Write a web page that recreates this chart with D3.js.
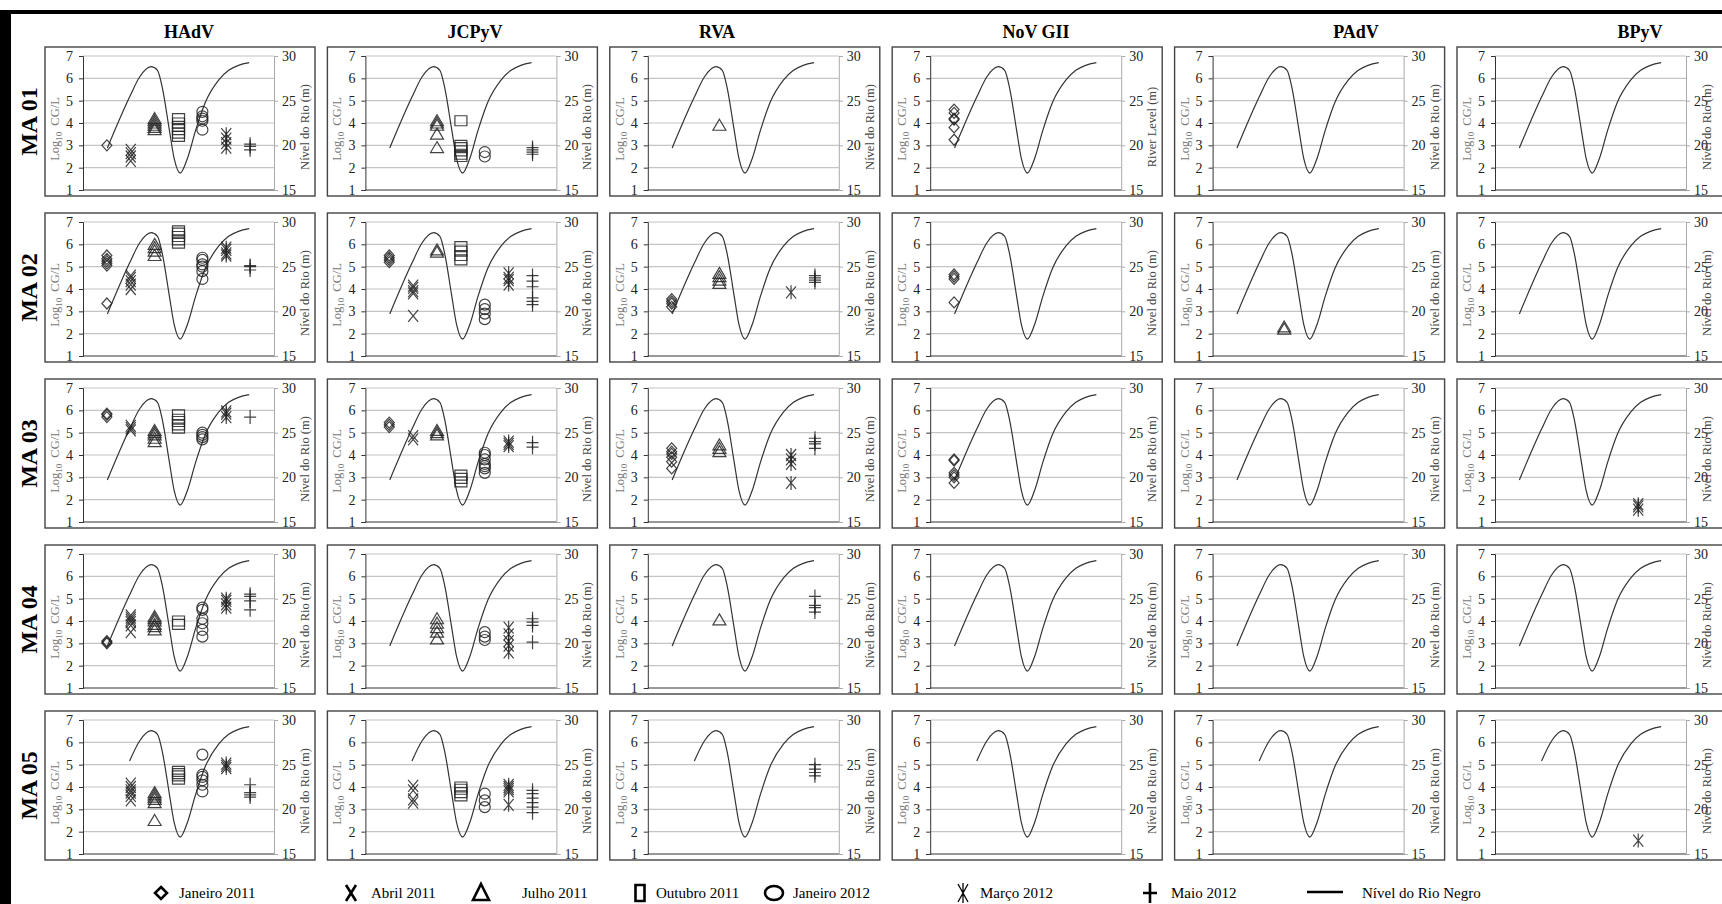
<!DOCTYPE html>
<html>
<head>
<meta charset="utf-8">
<script src="https://cdn.jsdelivr.net/npm/d3@7"></script>
<style>
  body { margin: 0; background: #fff; }
  svg { display: block; }
</style>
</head>
<body>
<div id="chart-area"></div>
<script>
// Columns (virus) and rows (sampling site)
const viruses = ["HAdV", "JCPyV", "RVA", "NoV GII", "PAdV", "BPyV"];
const sites = ["MA 01", "MA 02", "MA 03", "MA 04", "MA 05"];
const campaigns = ["Janeiro 2011", "Abril 2011", "Julho 2011", "Outubro 2011", "Janeiro 2012", "Março 2012", "Maio 2012"];

// tick labels
const logTicks = [1, 2, 3, 4, 5, 6, 7];
const levelTicks = [15, 20, 25, 30];

// Rio Negro level (m), x in campaign units (1 = Janeiro 2011 ... 7 = Maio 2012)
const riverX = [1.02, 1.95, 2.37, 2.85, 3.12, 3.33, 3.61, 3.82, 4.07, 4.37, 4.72, 5.13, 5.68, 6.10, 6.51, 6.96];
const riverLevel = [19.7, 25.4, 27.65, 28.8, 28.4, 26.35, 21.85, 18.5, 16.9, 18.5, 21.7, 24.85, 27.3, 28.4, 28.95, 29.25];

// log10 CG/L per site: [virus, campaign index, replicate values]
const ma01 = [
	["HAdV", 0, [3.0]],
	["HAdV", 1, [2.3, 2.5, 2.65, 2.8]],
	["HAdV", 2, [3.7, 3.8, 3.9, 4.0, 4.1, 4.2]],
	["HAdV", 3, [3.4, 3.55, 3.7, 3.85, 4.0, 4.2]],
	["HAdV", 4, [3.7, 4.1, 4.2, 4.3, 4.5]],
	["HAdV", 5, [2.9, 3.1, 3.3, 3.5]],
	["HAdV", 6, [2.8, 2.95, 3.05]],
	["JCPyV", 2, [2.9, 3.5, 3.9, 4.0, 4.1]],
	["JCPyV", 3, [2.5, 2.6, 2.75, 2.9, 3.0, 4.1]],
	["JCPyV", 4, [2.5, 2.7]],
	["JCPyV", 6, [2.6, 2.7, 2.8, 2.9]],
	["RVA", 2, [3.9]],
	["NoV GII", 0, [3.25, 3.8, 4.15, 4.2, 4.45, 4.6]]
];
const ma02 = [
	["HAdV", 0, [3.35, 5.05, 5.15, 5.25, 5.35, 5.5]],
	["HAdV", 1, [4.0, 4.2, 4.35, 4.5, 4.6]],
	["HAdV", 2, [5.5, 5.7, 5.85, 6.0]],
	["HAdV", 3, [6.05, 6.2, 6.35, 6.5, 6.6]],
	["HAdV", 4, [4.45, 4.8, 5.0, 5.1, 5.3, 5.4]],
	["HAdV", 5, [5.5, 5.6, 5.75, 5.85]],
	["HAdV", 6, [4.85, 5.0, 5.05]],
	["JCPyV", 0, [5.2, 5.3, 5.4, 5.5]],
	["JCPyV", 1, [2.8, 3.8, 3.9, 4.05, 4.15]],
	["JCPyV", 2, [5.65, 5.75]],
	["JCPyV", 3, [5.3, 5.5, 5.7, 5.9]],
	["JCPyV", 4, [2.65, 2.9, 3.1, 3.3]],
	["JCPyV", 5, [4.2, 4.4, 4.5, 4.7]],
	["JCPyV", 6, [3.3, 3.45, 3.6, 4.1, 4.35, 4.6]],
	["RVA", 0, [3.2, 3.35, 3.45, 3.55]],
	["RVA", 2, [4.25, 4.4, 4.55, 4.7]],
	["RVA", 5, [3.85]],
	["RVA", 6, [4.3, 4.4, 4.5, 4.6]],
	["NoV GII", 0, [3.4, 4.45, 4.55, 4.65]],
	["PAdV", 2, [2.2, 2.3]]
];
const ma03 = [
	["HAdV", 0, [5.7, 5.8, 5.85]],
	["HAdV", 1, [5.1, 5.2, 5.3]],
	["HAdV", 2, [4.6, 4.75, 4.9, 5.0, 5.1]],
	["HAdV", 3, [5.2, 5.35, 5.5, 5.6, 5.8]],
	["HAdV", 4, [4.7, 4.8, 4.9, 5.0]],
	["HAdV", 5, [5.7, 5.85, 5.95]],
	["HAdV", 6, [5.7]],
	["JCPyV", 0, [5.25, 5.35, 5.45]],
	["JCPyV", 1, [4.7, 4.85]],
	["JCPyV", 2, [4.9, 5.0, 5.1]],
	["JCPyV", 3, [2.8, 2.95, 3.1]],
	["JCPyV", 4, [3.2, 3.4, 3.5, 3.6, 3.8, 4.0, 4.1]],
	["JCPyV", 5, [4.4, 4.5, 4.6]],
	["JCPyV", 6, [4.35, 4.55]],
	["RVA", 0, [3.4, 3.7, 3.9, 4.05, 4.15, 4.3]],
	["RVA", 2, [4.15, 4.3, 4.45]],
	["RVA", 5, [2.75, 3.6, 3.8, 4.0]],
	["RVA", 6, [4.3, 4.5, 4.6, 4.75]],
	["NoV GII", 0, [2.75, 3.0, 3.1, 3.2, 3.75, 3.8]],
	["BPyV", 5, [1.55, 1.7, 1.8]]
];
const ma04 = [
	["HAdV", 0, [3.0, 3.05, 3.1]],
	["HAdV", 1, [3.5, 3.8, 3.95, 4.05, 4.15, 4.25]],
	["HAdV", 2, [3.6, 3.75, 3.85, 4.0, 4.1, 4.2]],
	["HAdV", 3, [3.85, 4.0]],
	["HAdV", 4, [3.3, 3.6, 3.9, 4.1, 4.5, 4.6]],
	["HAdV", 5, [4.6, 4.75, 4.9, 5.0]],
	["HAdV", 6, [4.5, 4.9, 5.1, 5.2]],
	["JCPyV", 2, [3.2, 3.5, 3.7, 3.9, 4.1]],
	["JCPyV", 4, [3.15, 3.3, 3.5]],
	["JCPyV", 5, [2.6, 2.9, 3.1, 3.4, 3.7]],
	["JCPyV", 6, [3.05, 3.8, 3.95, 4.1]],
	["RVA", 2, [4.05]],
	["RVA", 6, [4.4, 4.6, 4.7, 5.1]]
];
const ma05 = [
	["HAdV", 1, [3.4, 3.6, 3.75, 3.85, 4.0, 4.15]],
	["HAdV", 2, [2.5, 3.3, 3.45, 3.55, 3.65, 3.75]],
	["HAdV", 3, [4.35, 4.5, 4.6, 4.7]],
	["HAdV", 4, [3.8, 4.1, 4.3, 4.45, 4.55, 5.45]],
	["HAdV", 5, [4.85, 4.95, 5.05]],
	["HAdV", 6, [3.55, 3.65, 3.75, 4.1]],
	["JCPyV", 1, [3.3, 3.45, 3.85, 4.05]],
	["JCPyV", 3, [3.6, 3.75, 3.9, 4.0]],
	["JCPyV", 4, [3.1, 3.4, 3.7]],
	["JCPyV", 5, [3.2, 3.8, 3.9, 4.0, 4.1]],
	["JCPyV", 6, [2.85, 3.1, 3.3, 3.5, 3.7, 3.85]],
	["RVA", 6, [4.5, 4.65, 4.8, 5.0]],
	["BPyV", 5, [1.6]]
];
const siteData = [ma01, ma02, ma03, ma04, ma05];

// SVG size
let width = 1722,
	height = 904;
const serif = "'Liberation Serif', 'Times New Roman', serif";

// panel layout
const boxW = 270, boxH = 149;
const colX = i => 45 + i * 282.4;
const rowY = j => 47 + j * 166;
const headerX = [189, 475, 717, 1036, 1356, 1640];

// marker shapes, one per campaign
const markerPath = [
	"M0,-5.5L5,0L0,5.5L-5,0Z",                       // diamond
	"M-5,-6L5,6M-5,6L5,-6",                         // X
	"M0,-6L6.5,5L-6.5,5Z",                          // triangle
	"M-6,-5H6V5H-6Z",                               // square
	"M5.5,0A5.5,5.5 0 1,1 -5.5,0A5.5,5.5 0 1,1 5.5,0Z", // circle
	"M-5,-6L5,6M-5,6L5,-6M0,-7V7",                  // asterisk
	"M-6,0H6M0,-7V7"                                // plus
];

let svg = d3.select("#chart-area")
	.append("svg")
	.attr("width", width)
	.attr("height", height);

// black frame on top and left
svg.append("rect").attr("x", 0).attr("y", 10).attr("width", width).attr("height", 4).attr("fill", "#000");
svg.append("rect").attr("x", 0).attr("y", 10).attr("width", 11).attr("height", height - 10).attr("fill", "#000");

// column headers
svg.selectAll(".col-title")
	.data(viruses)
	.enter()
	.append("text")
	.attr("class", "col-title")
	.attr("x", (d, i) => headerX[i])
	.attr("y", 38)
	.attr("text-anchor", "middle")
	.attr("font-family", serif)
	.attr("font-weight", "bold")
	.attr("font-size", 18)
	.text(d => d);

// row labels
svg.selectAll(".row-title")
	.data(sites)
	.enter()
	.append("text")
	.attr("class", "row-title")
	.attr("transform", (d, j) => "translate(37," + (rowY(j) + boxH / 2) + ") rotate(-90)")
	.attr("text-anchor", "middle")
	.attr("font-family", serif)
	.attr("font-weight", "bold")
	.attr("font-size", 24)
	.text(d => d);

sites.forEach((site, j) => {
	viruses.forEach((virus, i) => {
		drawPanel(colX(i), rowY(j), virus, j, i);
	});
});

function drawPanel(x0, y0, virus, j, i) {
	const g = svg.append("g").attr("transform", "translate(" + x0 + "," + y0 + ")");

	g.append("rect")
		.attr("width", boxW)
		.attr("height", boxH)
		.attr("fill", "#fff")
		.attr("stroke", "#444")
		.attr("stroke-width", 1.4);

	const x = d3.scaleLinear().domain([0, 8]).range([38, 229]);
	const y = d3.scaleLinear().domain([1, 7]).range([143, 9]);
	const yLevel = d3.scaleLinear().domain([15, 30]).range([143, 9]);

	// gridlines
	g.selectAll(".grid")
		.data(logTicks.slice(1))
		.enter()
		.append("line")
		.attr("x1", x(0))
		.attr("x2", x(8))
		.attr("y1", d => y(d))
		.attr("y2", d => y(d))
		.attr("stroke", "#c4c4c4")
		.attr("stroke-width", 1.2);

	// left axis
	const yAxis = d3.axisLeft(y).tickValues(logTicks).tickFormat(d3.format("d")).tickSize(4).tickPadding(6);
	const ly = g.append("g")
		.attr("transform", "translate(" + x(0) + ",0)")
		.call(yAxis);
	ly.attr("font-family", serif).attr("font-size", 14);
	ly.select(".domain").attr("stroke", "#333");
	ly.selectAll(".tick line").attr("stroke", "#333");
	ly.selectAll(".tick text").attr("fill", "#222");

	// right axis
	const yAxisR = d3.axisRight(yLevel).tickValues(levelTicks).tickFormat(d3.format("d")).tickSize(4).tickPadding(4);
	const ry = g.append("g")
		.attr("transform", "translate(" + x(8) + ",0)")
		.call(yAxisR);
	ry.attr("font-family", serif).attr("font-size", 14);
	ry.select(".domain").attr("stroke", "#aaa");
	ry.selectAll(".tick line").attr("stroke", "#aaa");
	ry.selectAll(".tick text").attr("fill", "#222");

	// bottom axis line
	g.append("line")
		.attr("x1", x(0)).attr("x2", x(8))
		.attr("y1", y(1)).attr("y2", y(1))
		.attr("stroke", "#333");

	// axis titles
	const ll = g.append("text")
		.attr("transform", "translate(14," + 82 + ") rotate(-90)")
		.attr("text-anchor", "middle")
		.attr("font-family", serif)
		.attr("font-size", 12.5)
		.attr("fill", "#777");
	ll.append("tspan").text("Log");
	ll.append("tspan").attr("font-size", 9).attr("dy", 3).text("10");
	ll.append("tspan").attr("dy", -3).attr("dx", 6).text("CG/L");

	// the last column is cut by the page edge, so its title sits a bit further in
	g.append("text")
		.attr("transform", "translate(" + (i === 5 ? 254 : 264) + "," + 80 + ") rotate(-90)")
		.attr("text-anchor", "middle")
		.attr("font-family", serif)
		.attr("font-size", 12.5)
		.attr("fill", "#444")
		.text(j === 0 && i === 3 ? "River Level (m)" : "Nível do Rio (m)");

	// river level line
	let river = riverX.map((v, k) => ({ x: v, level: riverLevel[k] }));
	if (j === 4) river = river.filter(d => d.x >= 1.95);
	const line = d3.line()
		.x(d => x(d.x))
		.y(d => yLevel(d.level))
		.curve(d3.curveMonotoneX);
	g.append("path")
		.datum(river)
		.attr("d", line)
		.attr("fill", "none")
		.attr("stroke", "#333")
		.attr("stroke-width", 1.2);

	// sample markers
	const pts = [];
	siteData[j].filter(r => r[0] === virus).forEach(r => {
		r[2].forEach(v => pts.push({ c: r[1], v: v }));
	});
	g.selectAll(".marker")
		.data(pts)
		.enter()
		.append("path")
		.attr("class", "marker")
		.attr("transform", d => "translate(" + x(d.c + 1) + "," + y(d.v) + ")")
		.attr("d", d => markerPath[d.c])
		.attr("fill", "none")
		.attr("stroke", "#222")
		.attr("stroke-opacity", 0.85)
		.attr("stroke-width", 1.2);
}

// legend
const legendSym = [161, 351, 481, 640, 774, 963, 1150];
const legendText = [179, 371, 522, 656, 793, 980, 1171];
const legendPaths = [
	"M0,-6L6,0L0,6L-6,0Z",
	"M-5,-8L5,8M-5,8L5,-8",
	"M0,-9L8,7L-8,7Z",
	"M-4.5,-8H4.5V8H-4.5Z",
	"M9,0A9,7 0 1,1 -9,0A9,7 0 1,1 9,0Z",
	"M-5,-9L5,9M-5,9L5,-9M0,-10V10",
	"M-7,0H7M0,-10V10"
];
const lg = svg.append("g").attr("class", "legend");
campaigns.forEach((c, k) => {
	lg.append("path")
		.attr("transform", "translate(" + legendSym[k] + ",893)")
		.attr("d", legendPaths[k])
		.attr("fill", "none")
		.attr("stroke", "#000")
		.attr("stroke-width", k === 5 ? 1.3 : 2.6);
	lg.append("text")
		.attr("x", legendText[k])
		.attr("y", 898)
		.attr("font-family", serif)
		.attr("font-size", 15)
		.text(c);
});
lg.append("line")
	.attr("x1", 1307).attr("x2", 1343)
	.attr("y1", 892).attr("y2", 892)
	.attr("stroke", "#000")
	.attr("stroke-width", 2.6);
lg.append("text")
	.attr("x", 1362)
	.attr("y", 898)
	.attr("font-family", serif)
	.attr("font-size", 15)
	.text("Nível do Rio Negro");
</script>
</body>
</html>
